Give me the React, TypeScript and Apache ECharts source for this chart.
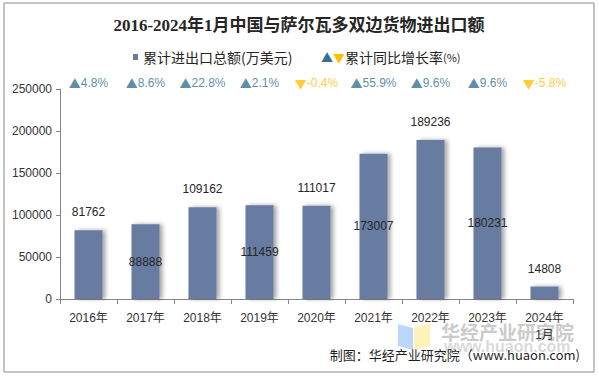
import React, { useEffect, useRef } from "react";
import * as echarts from "echarts";

const categories = ["2016年", "2017年", "2018年", "2019年", "2020年", "2021年", "2022年", "2023年", "2024年\n1月"];
const totals = [81762, 88888, 109162, 111459, 111017, 173007, 189236, 180231, 14808];
const growth = [4.8, 8.6, 22.8, 2.1, -0.4, 55.9, 9.6, 9.6, -5.8];
const yTicks = [0, 50000, 100000, 150000, 200000, 250000];

const BAR = "#677BA1";
const UP = "#32708F";
const DOWN = "#FFC000";
const FONT = "Arial, 'Liberation Sans', 'Noto Sans CJK SC', sans-serif";
const TRI = "'Noto Sans CJK SC', sans-serif";

export default function App() {
  const ref = useRef<HTMLDivElement>(null);
  useEffect(() => {
    if (!ref.current) return;
    const chart = echarts.init(ref.current, null, { renderer: "svg" });
    chart.setOption({
      animation: false,
      backgroundColor: "#ffffff",
      textStyle: { fontFamily: FONT },
      grid: { left: 60, right: 26, top: 89, bottom: 77, containLabel: false },
      xAxis: {
        type: "category",
        data: categories,
        axisLine: { lineStyle: { color: "#868686" } },
        axisTick: { show: true, length: 5, alignWithLabel: false, lineStyle: { color: "#868686" } },
        axisLabel: { color: "#333333", fontSize: 12, margin: 10, lineHeight: 17, interval: 0 },
      },
      yAxis: [
        {
          type: "value",
          min: yTicks[0],
          max: yTicks[yTicks.length - 1],
          interval: 50000,
          axisLine: { show: true, lineStyle: { color: "#868686" } },
          axisTick: { show: true, length: 4, lineStyle: { color: "#868686" } },
          axisLabel: { color: "#333333", fontSize: 12, margin: 8, formatter: (v: number) => String(v) },
          splitLine: { show: false },
        },
        { type: "value", min: 0, max: 1, show: false },
      ],
      series: [
        {
          type: "bar",
          data: totals.map((v, i) => ({
            value: v,
            label: {
              show: true,
              position: i % 2 === 0 ? "top" : "inside",
              distance: 12,
            },
          })),
          barWidth: 28,
          itemStyle: {
            color: BAR,
            shadowColor: "rgba(0,0,0,0.35)",
            shadowBlur: 4,
            shadowOffsetX: 3,
            shadowOffsetY: 0,
          },
          label: { color: "#262626", fontSize: 12, formatter: (p: any) => String(p.value) },
        },
        {
          type: "scatter",
          yAxisIndex: 1,
          clip: false,
          symbolSize: 0,
          data: growth.map((g, i) => [categories[i], 1, g]),
          label: {
            show: true,
            position: "inside",
            offset: [0, -6],
            formatter: (p: any) => {
              const g = p.value[2];
              return g >= 0 ? `{u|▲}{ut|${g.toFixed(1)}%}` : `{d|▼}{dt|${g.toFixed(1)}%}`;
            },
            rich: {
              u: { color: UP, fontSize: 12, fontFamily: TRI },
              ut: { color: UP, fontSize: 12 },
              d: { color: DOWN, fontSize: 12, fontFamily: TRI },
              dt: { color: DOWN, fontSize: 12 },
            },
          },
        },
      ],
      graphic: [
        {
          type: "rect",
          shape: { x: 4, y: 3, width: 590, height: 369 },
          style: { fill: "none", stroke: "#8a8a8a", lineWidth: 1 },
          silent: true,
        },
        {
          type: "text",
          x: 299,
          y: 25,
          style: {
            text: "2016-2024年1月中国与萨尔瓦多双边货物进出口额",
            font: "bold 17px 'Liberation Serif', 'Noto Sans CJK SC', serif",
            fill: "#262626",
            textAlign: "center",
            textVerticalAlign: "middle",
          },
        },
        {
          type: "rect",
          shape: { x: 133, y: 54, width: 5, height: 6 },
          style: { fill: BAR },
        },
        {
          type: "text",
          x: 143,
          y: 57,
          style: {
            text: "累计进出口总额(万美元)",
            font: "14px 'Noto Sans CJK SC', sans-serif",
            fill: "#262626",
            textVerticalAlign: "middle",
          },
        },
        {
          type: "text",
          x: 321,
          y: 57,
          style: {
            text: "{u|▲}{d|▼}{t|累计同比增长率}{s|(%)}",
            rich: {
              u: { fill: UP, fontSize: 12, fontFamily: TRI },
              d: { fill: DOWN, fontSize: 12, fontFamily: TRI },
              t: { fill: "#262626", fontSize: 14, fontFamily: "'Noto Sans CJK SC', sans-serif" },
              s: { fill: "#262626", fontSize: 11, fontFamily: "'Noto Sans CJK SC', sans-serif" },
            },
            textVerticalAlign: "middle",
          },
        },
        {
          type: "polygon",
          shape: { points: [[398, 324], [413, 328], [413, 350], [398, 346]] },
          style: { fill: "#B5D3FA", opacity: 0.9 },
          z: 0,
        },
        {
          type: "polygon",
          shape: { points: [[414, 328], [430, 323], [430, 346], [414, 350]] },
          style: { fill: "#FFF1B3", opacity: 0.9 },
          z: 0,
        },
        {
          type: "text",
          x: 441,
          y: 331,
          z: 0,
          style: {
            text: "华经产业研究院",
            font: "bold 19px 'Noto Sans CJK SC', sans-serif",
            fill: "#CBCBCB",
            textVerticalAlign: "middle",
          },
        },
        {
          type: "text",
          x: 444,
          y: 346,
          z: 0,
          style: {
            text: "www.huaon.com",
            font: "bold 16px Arial, sans-serif",
            fill: "#DADADA",
            textVerticalAlign: "middle",
          },
        },
        {
          type: "text",
          x: 580,
          y: 354,
          style: {
            text: "制图：华经产业研究院（www.huaon.com)",
            font: "13px 'Noto Sans CJK SC', sans-serif",
            fill: "#1f1f1f",
            textAlign: "right",
            textVerticalAlign: "middle",
          },
        },
      ],
    });
    return () => chart.dispose();
  }, []);
  return <div ref={ref} style={{ width: 599, height: 376, position: "absolute", left: 0, top: 0 }} />;
}
